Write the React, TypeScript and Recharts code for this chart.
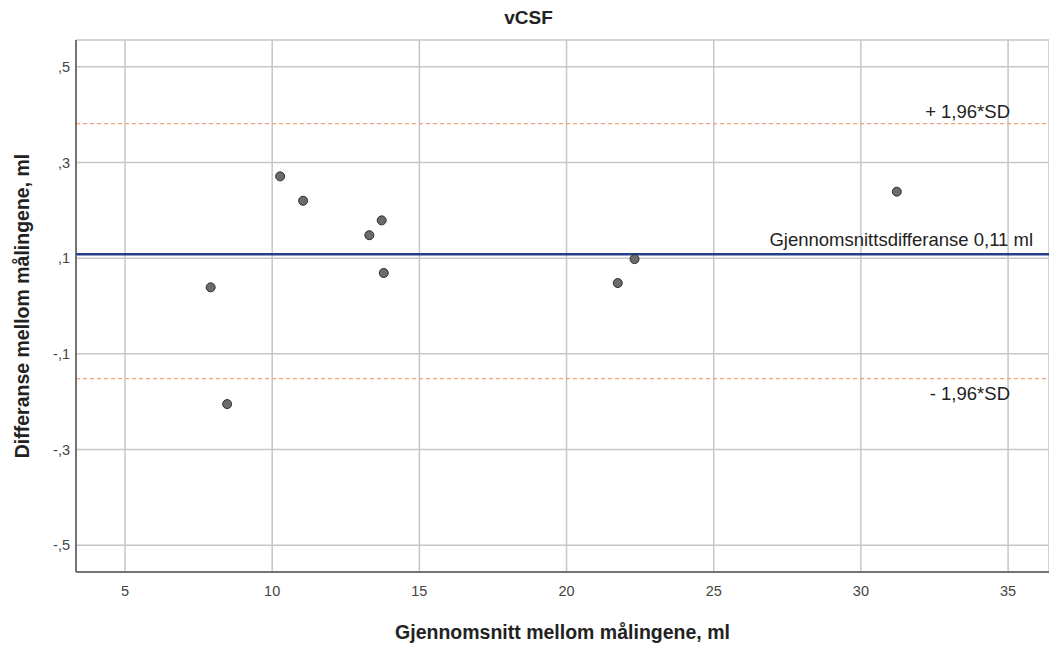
import { CartesianGrid, ReferenceLine, Scatter, ScatterChart, XAxis, YAxis } from "recharts"

const meanValues = [7.91, 8.47, 10.27, 11.05, 13.3, 13.72, 13.79, 21.74, 22.31, 31.22]
const diffValues = [0.039, -0.205, 0.271, 0.22, 0.148, 0.179, 0.069, 0.048, 0.098, 0.239]

const xTicks = [5, 10, 15, 20, 25, 30, 35]
const yTicks = [-0.5, -0.3, -0.1, 0.1, 0.3, 0.5]

const meanDiff = 0.108
const upperLimit = 0.381
const lowerLimit = -0.152

const points = meanValues.map((x, i) => ({ x, y: diffValues[i] }))

const font = "'Liberation Sans', Arial, sans-serif"

const formatY = (v: number) => {
  const s = v.toFixed(1)
  return s.replace("0.", ",")
}

const Dot = (props: any) => {
  const { cx, cy } = props
  return <circle cx={cx} cy={cy} r={4.5} fill="#6b6b6b" stroke="#2e2e2e" strokeWidth={1} />
}

const refLabel = (text: string, fromRight: number, dy: number) => (props: any) => {
  const { viewBox } = props
  return (
    <text
      x={viewBox.x + viewBox.width - fromRight}
      y={viewBox.y + dy}
      textAnchor="end"
      fontFamily={font}
      fontSize={18.5}
      fill="#222"
    >
      {text}
    </text>
  )
}

export default function App() {
  return (
    <div style={{ position: "absolute", left: 0, top: 0, width: 1049, height: 648, background: "#fff" }}>
      <div
        style={{
          position: "absolute",
          left: 4,
          top: 7,
          width: 1049,
          textAlign: "center",
          fontFamily: font,
          fontWeight: "bold",
          fontSize: 19,
          color: "#222",
        }}
      >
        vCSF
      </div>
      <ScatterChart width={1049} height={648} margin={{ top: 40, right: 0, left: 0, bottom: 0 }}>
        <CartesianGrid stroke="#c6c6c6" strokeWidth={1.5} />
        <XAxis
          type="number"
          dataKey="x"
          domain={[3.335, 36.39]}
          ticks={xTicks}
          allowDataOverflow
          height={76}
          tickLine={false}
          tickSize={0}
          tickMargin={14}
          axisLine={{ stroke: "#555", strokeWidth: 1.5 }}
          tick={{ fontFamily: font, fontSize: 14.5, fill: "#444" }}
          label={(props: any) => {
            const { viewBox } = props
            return (
              <text
                x={viewBox.x + viewBox.width / 2}
                y={viewBox.y + 67}
                textAnchor="middle"
                fontFamily={font}
                fontWeight="bold"
                fontSize={19.5}
                fill="#222"
              >
                Gjennomsnitt mellom målingene, ml
              </text>
            )
          }}
        />
        <YAxis
          type="number"
          dataKey="y"
          domain={[-0.556, 0.556]}
          ticks={yTicks}
          allowDataOverflow
          width={76}
          tickLine={false}
          tickSize={0}
          tickMargin={6}
          tickFormatter={formatY}
          axisLine={{ stroke: "#555", strokeWidth: 1.5 }}
          tick={{ fontFamily: font, fontSize: 14.5, fill: "#444" }}
          label={(props: any) => {
            const { viewBox } = props
            const cx = 22
            const cy = viewBox.y + viewBox.height / 2
            return (
              <text
                x={cx}
                y={cy}
                transform={`rotate(-90, ${cx}, ${cy})`}
                textAnchor="middle"
                dominantBaseline="central"
                fontFamily={font}
                fontWeight="bold"
                fontSize={19.5}
                fill="#222"
              >
                Differanse mellom målingene, ml
              </text>
            )
          }}
        />
        <ReferenceLine
          y={upperLimit}
          stroke="#f4a07c"
          strokeWidth={1.2}
          strokeDasharray="4 3"
          label={refLabel("+ 1,96*SD", 39, -6)}
        />
        <ReferenceLine
          y={lowerLimit}
          stroke="#f4a07c"
          strokeWidth={1.2}
          strokeDasharray="4 3"
          label={refLabel("- 1,96*SD", 39, 21)}
        />
        <ReferenceLine
          y={meanDiff}
          stroke="#233e8b"
          strokeWidth={2.5}
          label={refLabel("Gjennomsnittsdifferanse 0,11 ml", 16, -8.5)}
        />
        <Scatter data={points} shape={<Dot />} isAnimationActive={false} />
      </ScatterChart>
    </div>
  )
}
